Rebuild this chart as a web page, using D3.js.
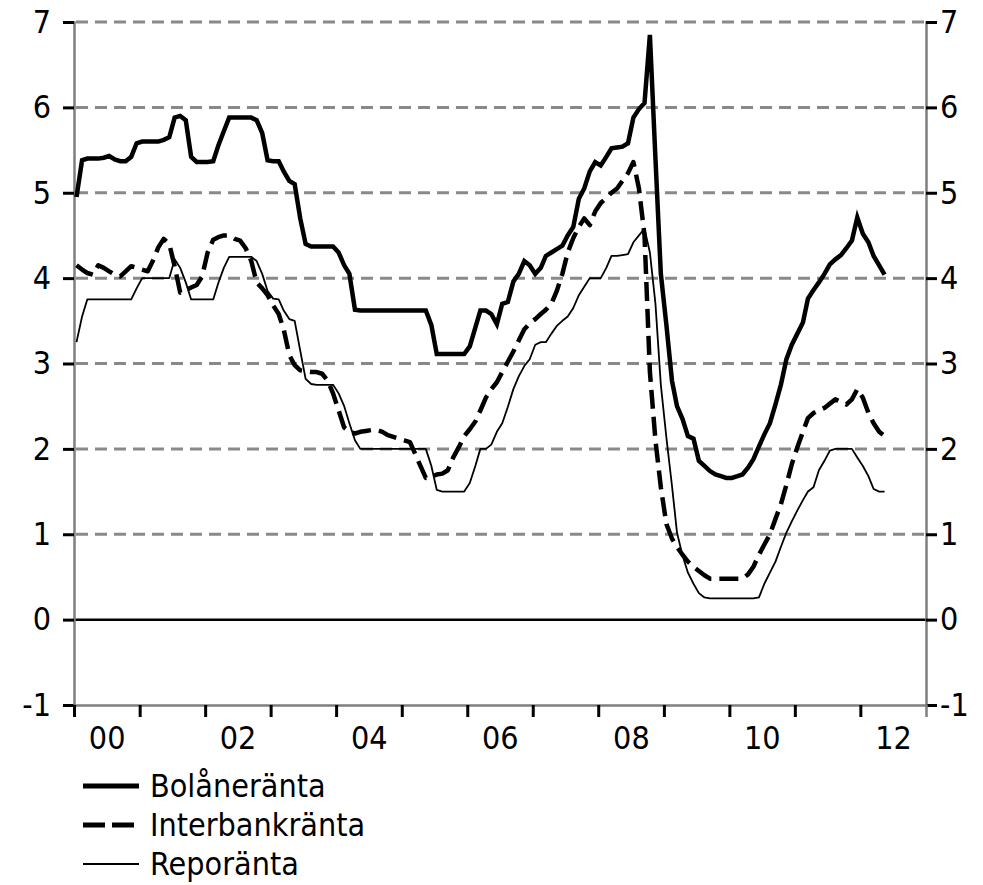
<!DOCTYPE html>
<html>
<head>
<meta charset="utf-8">
<script src="https://cdn.jsdelivr.net/npm/d3@7/dist/d3.min.js"></script>
<style>
  html, body { margin: 0; padding: 0; background: #fff; }
  svg text { font-family: "DejaVu Sans Condensed", "Liberation Sans", sans-serif; fill: #000; }
</style>
</head>
<body>
<svg id="chart" width="983" height="885"></svg>
<script>
// ---- Data (monthly, Jan 2000 – May 2012), per cent ----
const startMonth = new Date(2000, 0, 1);
const endMonth = new Date(2012, 5, 1);
const seriesNames = ["Bolåneränta", "Interbankränta", "Reporänta"];
const yTicks = [-1, 0, 1, 2, 3, 4, 5, 6, 7];
const yearLabels = ["00", "02", "04", "06", "08", "10", "12"];

const bolan = [
  4.95, 5.38, 5.40, 5.40, 5.40, 5.41, 5.43, 5.39, 5.37, 5.37, 5.42, 5.58,
  5.60, 5.60, 5.60, 5.60, 5.62, 5.65, 5.88, 5.90, 5.85, 5.42, 5.36, 5.36,
  5.36, 5.37, 5.55, 5.72, 5.88, 5.88, 5.88, 5.88, 5.88, 5.85, 5.70, 5.38,
  5.37, 5.37, 5.25, 5.14, 5.10, 4.70, 4.40, 4.37, 4.37, 4.37, 4.37, 4.37,
  4.30, 4.15, 4.05, 3.63, 3.62, 3.62, 3.62, 3.62, 3.62, 3.62, 3.62, 3.62,
  3.62, 3.62, 3.62, 3.62, 3.62, 3.45, 3.11, 3.11, 3.11, 3.11, 3.11, 3.11,
  3.20, 3.42, 3.62, 3.62, 3.58, 3.46, 3.70, 3.72, 3.96, 4.05, 4.20, 4.15,
  4.05, 4.12, 4.26, 4.30, 4.34, 4.38, 4.50, 4.60, 4.93, 5.05, 5.25, 5.36,
  5.32, 5.42, 5.52, 5.53, 5.54, 5.58, 5.88, 5.98, 6.05, 6.85, 5.40, 4.05,
  3.45, 2.80, 2.50, 2.35, 2.15, 2.12, 1.86, 1.80, 1.74, 1.70, 1.68, 1.66,
  1.66, 1.68, 1.70, 1.78, 1.88, 2.03, 2.17, 2.30, 2.52, 2.75, 3.05, 3.22,
  3.35, 3.48, 3.76, 3.86, 3.95, 4.05, 4.16, 4.22, 4.27, 4.35, 4.44, 4.71,
  4.52, 4.42, 4.26, 4.15, 4.04
];
const interbank = [
  4.15, 4.10, 4.06, 4.04, 4.15, 4.12, 4.08, 4.04, 4.02, 4.08, 4.14, 4.12,
  4.10, 4.08, 4.20, 4.36, 4.46, 4.40, 4.14, 3.83, 3.86, 3.89, 3.92, 4.02,
  4.30, 4.45, 4.48, 4.50, 4.50, 4.46, 4.44, 4.35, 4.20, 3.95, 3.88, 3.80,
  3.68, 3.58, 3.40, 3.10, 2.98, 2.92, 2.91, 2.90, 2.90, 2.88, 2.80, 2.65,
  2.45, 2.25, 2.20, 2.18, 2.20, 2.21, 2.22, 2.22, 2.20, 2.16, 2.14, 2.12,
  2.10, 2.08, 1.95, 1.80, 1.66, 1.67, 1.70, 1.71, 1.75, 1.90, 2.02, 2.15,
  2.23, 2.32, 2.45, 2.60, 2.70, 2.78, 2.90, 3.02, 3.14, 3.27, 3.40, 3.47,
  3.52, 3.58, 3.63, 3.70, 3.85, 4.05, 4.30, 4.47, 4.60, 4.70, 4.62, 4.78,
  4.88, 4.94, 5.00, 5.05, 5.14, 5.23, 5.36, 5.05, 4.50, 2.90, 2.10, 1.55,
  1.12, 0.95, 0.85, 0.76, 0.68, 0.62, 0.57, 0.52, 0.48, 0.48, 0.48, 0.48,
  0.48, 0.48, 0.48, 0.53, 0.62, 0.76, 0.88, 1.00, 1.18, 1.35, 1.58, 1.82,
  2.02, 2.20, 2.36, 2.42, 2.45, 2.48, 2.53, 2.58, 2.55, 2.52, 2.58, 2.70,
  2.60, 2.42, 2.30, 2.20, 2.15
];
const repo = [
  3.25, 3.55, 3.75, 3.75, 3.75, 3.75, 3.75, 3.75, 3.75, 3.75, 3.75, 3.88,
  4.00, 4.00, 4.00, 4.00, 4.00, 4.00, 4.22, 4.12, 3.95, 3.75, 3.75, 3.75,
  3.75, 3.75, 3.94, 4.12, 4.25, 4.25, 4.25, 4.25, 4.25, 4.20, 4.05, 3.85,
  3.76, 3.75, 3.62, 3.52, 3.50, 3.15, 2.82, 2.76, 2.75, 2.75, 2.75, 2.75,
  2.65, 2.50, 2.30, 2.10, 2.00, 2.00, 2.00, 2.00, 2.00, 2.00, 2.00, 2.00,
  2.00, 2.00, 2.00, 2.00, 2.00, 1.80, 1.52, 1.50, 1.50, 1.50, 1.50, 1.50,
  1.60, 1.80, 2.00, 2.00, 2.05, 2.20, 2.30, 2.49, 2.70, 2.85, 2.97, 3.05,
  3.22, 3.25, 3.25, 3.35, 3.44, 3.50, 3.55, 3.65, 3.80, 3.90, 4.00, 4.00,
  4.00, 4.12, 4.26, 4.26, 4.27, 4.28, 4.42, 4.50, 4.58, 4.30, 3.70, 2.75,
  2.13, 1.57, 1.02, 0.75, 0.55, 0.42, 0.31, 0.26, 0.25, 0.25, 0.25, 0.25,
  0.25, 0.25, 0.25, 0.25, 0.25, 0.26, 0.42, 0.55, 0.68, 0.85, 1.02, 1.15,
  1.28, 1.40, 1.50, 1.55, 1.75, 1.86, 1.98, 2.00, 2.00, 2.00, 2.00, 1.90,
  1.80, 1.68, 1.53, 1.50, 1.50
];

// ---- Layout ----
const svg = d3.select("#chart");
const W = 983, H = 885;
const plot = { left: 74, right: 926, top: 22, bottom: 705 };
const fontFamily = '"DejaVu Sans Condensed", "Liberation Sans", sans-serif';

svg.append("rect").attr("width", W).attr("height", H).attr("fill", "#fff");

const months = d3.timeMonth.range(startMonth, endMonth).map(d => d3.timeDay.offset(d, 14));

const x = d3.scaleTime()
  .domain([new Date(2000, 0, 1), new Date(2013, 0, 1)])
  .range([plot.left, plot.right]);
const y = d3.scaleLinear().domain([-1, 7]).range([plot.bottom, plot.top]);

// gridlines (dashed grey) for 1..7
svg.append("g").selectAll("line")
  .data(yTicks.filter(v => v > 0))
  .join("line")
  .attr("x1", plot.left + 2).attr("x2", plot.right)
  .attr("y1", d => y(d)).attr("y2", d => y(d))
  .attr("stroke", "#898989").attr("stroke-width", 3)
  .attr("stroke-dasharray", "12,7");

// zero line
svg.append("line")
  .attr("x1", plot.left).attr("x2", plot.right)
  .attr("y1", y(0)).attr("y2", y(0))
  .attr("stroke", "#000").attr("stroke-width", 2.5);

const fontSize = 32;
const fmt = d => String(d);   // plain hyphen minus, as in the original

// Left axis
const gL = svg.append("g").attr("transform", `translate(${plot.left},0)`)
  .call(d3.axisLeft(y).tickValues(yTicks).tickSize(11).tickPadding(12).tickFormat(fmt));
// Right axis
const gR = svg.append("g").attr("transform", `translate(${plot.right},0)`)
  .call(d3.axisRight(y).tickValues(yTicks).tickSize(11).tickPadding(3).tickFormat(fmt));
// Bottom axis (year ticks)
const gB = svg.append("g").attr("transform", `translate(0,${plot.bottom})`)
  .call(d3.axisBottom(x).ticks(d3.timeYear.every(1)).tickSize(12).tickFormat(""));
// Bottom labels at mid-year
const labelDates = yearLabels.map(s => new Date(2000 + (+s), 6, 1));
const gBL = svg.append("g").attr("transform", `translate(0,${plot.bottom})`)
  .call(d3.axisBottom(x).tickValues(labelDates).tickSize(0).tickPadding(21).tickFormat(d3.timeFormat("%y")));
gBL.select(".domain").remove();

[gL, gR, gB].forEach(g => {
  g.select(".domain").attr("stroke", "#7f7f7f").attr("stroke-width", 2.5);
  g.selectAll(".tick line").attr("stroke", "#000").attr("stroke-width", 3);
});
[gL, gR, gBL].forEach(g => {
  g.selectAll("text").attr("font-size", fontSize).style("font-family", fontFamily);
});
gB.selectAll(".tick").filter(d => d.getFullYear() > 2012).remove();

// ---- Lines ----
const line = d3.line().x((d, i) => x(months[i])).y(d => y(d));

svg.append("path").datum(interbank).attr("d", line)
  .attr("fill", "none").attr("stroke", "#000").attr("stroke-width", 4.5)
  .attr("stroke-dasharray", "19,8").attr("stroke-linejoin", "round");
svg.append("path").datum(repo).attr("d", line)
  .attr("fill", "none").attr("stroke", "#000").attr("stroke-width", 1.8)
  .attr("stroke-linejoin", "round");
svg.append("path").datum(bolan).attr("d", line)
  .attr("fill", "none").attr("stroke", "#000").attr("stroke-width", 4.5)
  .attr("stroke-linejoin", "miter").attr("stroke-miterlimit", 10);

// ---- Legend ----
const legendStyles = [
  { w: 5, dash: null },
  { w: 5, dash: "22,7" },
  { w: 2, dash: null }
];
const legY = [786, 825, 864];
const leg = svg.append("g");
seriesNames.forEach((name, i) => {
  leg.append("line")
    .attr("x1", 83).attr("x2", 139).attr("y1", legY[i]).attr("y2", legY[i])
    .attr("stroke", "#000").attr("stroke-width", legendStyles[i].w)
    .attr("stroke-dasharray", legendStyles[i].dash);
  leg.append("text")
    .attr("x", 150).attr("y", legY[i]).attr("dy", "0.35em")
    .attr("font-size", 32)
    .style("font-family", fontFamily)
    .text(name);
});
</script>
</body>
</html>
